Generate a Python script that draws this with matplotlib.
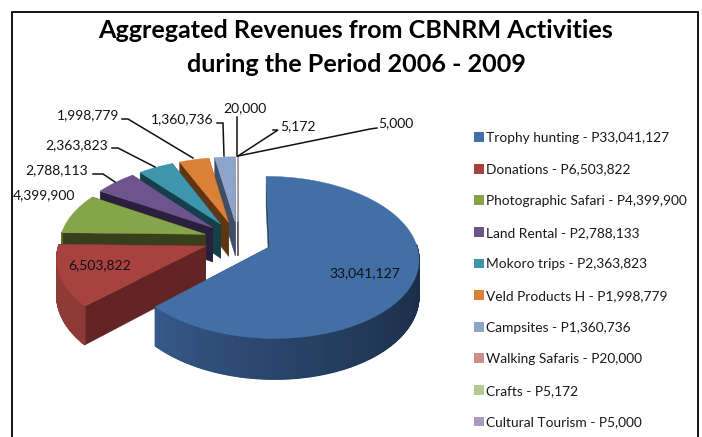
import numpy as np
import matplotlib
matplotlib.use("Agg")
import matplotlib.pyplot as plt
from matplotlib.patches import Polygon, Patch

categories = ["Trophy hunting", "Donations", "Photographic Safari", "Land Rental", "Mokoro trips",
              "Veld Products H", "Campsites", "Walking Safaris", "Crafts", "Cultural Tourism"]
values = [33041127, 6503822, 4399900, 2788133, 2363823, 1998779, 1360736, 20000, 5172, 5000]
legend_values = ["P33,041,127", "P6,503,822", "P4,399,900", "P2,788,133", "P2,363,823",
                 "P1,998,779", "P1,360,736", "P20,000", "P5,172", "P5,000"]
data_labels = ["33,041,127", "6,503,822", "4,399,900", "2,788,113", "2,363,823",
               "1,998,779", "1,360,736", "20,000", "5,172", "5,000"]
title_lines = ["Aggregated Revenues from CBNRM Activities", "during the Period 2006 - 2009"]

top_colors = ["#4270A6", "#A8423F", "#86A44A", "#6E548D", "#3D96AE", "#DA8137", "#8EA5CB", "#CE8E8D", "#B5CA92", "#A99BBD"]
radial_colors = ["#2A4560", "#632523", "#373F1B", "#2A1F3C", "#163F4C", "#5F3512", "#3E4E66", "#7A5050", "#6B7A50", "#5F5570"]
side_near = ["#36598A", "#8F3C38", "#5A6E30", "#4A3860", "#28687A", "#9A5A25", "#5F7390", "#9A6A6A", "#86966A", "#7A6E8C"]
side_far = ["#1A2C44", "#8A3734", "#5A6E30", "#4A3860", "#28687A", "#9A5A25", "#5F7390", "#9A6A6A", "#86966A", "#7A6E8C"]

label_pos = [(365, 273), (100, 265), (44, 195), (57, 170), (77, 145), (88, 115), (182, 119), (245, 108), (298, 126), (396, 123)]
leaders = [None, None, None,
           [(93, 174), (103, 174), (115, 182)],
           [(112, 148), (118, 148), (155, 167)],
           [(122, 119), (128, 119), (193, 158)],
           [(217, 123), (223, 123), (224, 156)],
           [(237, 117), (237, 156)],
           [(273, 130), (278, 130), (238, 156)],
           [(377, 128), (370, 129), (238, 156)]]

# projection of the exploded 3D pie
VX, VY, A, B, D, DEPTH, EXPLODE = 238.0, 239.4, 145.5, 77.7, 7.67, 35.0, 0.235


def project(X, Y, z=0.0):
    X, Y = np.asarray(X, float), np.asarray(Y, float)
    s = D / (D + Y)
    return VX + A * X * s, VY - B * Y * s + z * s


def hex2rgb(h):
    return np.array(matplotlib.colors.to_rgb(h))


fig = plt.figure(figsize=(7.02, 4.37), dpi=100)
ax = fig.add_axes([0, 0, 1, 1])
ax.set_xlim(0, 702)
ax.set_ylim(437, 0)
ax.axis("off")

fractions = np.array(values, float) / np.sum(values)
edges = np.concatenate([[0], np.cumsum(fractions)]) * 2 * np.pi
order = [7, 8, 9, 6, 5, 4, 3, 2, 0, 1]

for i in order:
    a0, a1 = edges[i], edges[i + 1]
    mid = (a0 + a1) / 2
    ax0, ay0 = EXPLODE * np.sin(mid), EXPLODE * np.cos(mid)
    phi = np.linspace(a0, a1, max(4, int(np.degrees(a1 - a0) * 2)))
    X = ax0 + np.sin(phi)
    Y = ay0 + np.cos(phi)
    # radial faces
    for a in (a0, a1):
        fx = [ax0, ax0 + np.sin(a)]
        fy = [ay0, ay0 + np.cos(a)]
        tx, ty = project(fx, fy)
        bx, by = project(fx, fy, DEPTH)
        ax.add_patch(Polygon(np.column_stack([np.r_[tx, bx[::-1]], np.r_[ty, by[::-1]]]),
                             closed=True, fc=radial_colors[i], ec=radial_colors[i], lw=0.3, zorder=2))
    # outer wall, shaded along the arc
    tx, ty = project(X, Y)
    bx, by = project(X, Y, DEPTH)
    near, far = hex2rgb(side_near[i]), hex2rgb(side_far[i])
    for k in range(len(phi) - 1):
        pm = (phi[k] + phi[k + 1]) / 2
        if np.cos(pm) > 0.03:
            continue
        t = np.clip((pm - np.pi / 2) / max(a1 - np.pi / 2, 1e-6), 0, 1) ** 1.4
        c = far + (near - far) * t
        ax.add_patch(Polygon([(tx[k], ty[k]), (tx[k + 1], ty[k + 1]), (bx[k + 1], by[k + 1]), (bx[k], by[k])],
                             closed=True, fc=c, ec=c, lw=0.9, zorder=2))
    # top face
    apx, apy = project(ax0, ay0)
    ax.add_patch(Polygon(np.column_stack([np.r_[apx, tx], np.r_[apy, ty]]), closed=True,
                         fc=top_colors[i], ec=top_colors[i], lw=0.3, zorder=3))

for text, pos, path in zip(data_labels, label_pos, leaders):
    ax.text(pos[0], pos[1], text, ha="center", va="center", fontsize=10, family="Lato",
            color="#111111", zorder=6)
    if path:
        ax.plot(*zip(*path), color="#111111", lw=1.1, zorder=5, solid_joinstyle="miter")

ax.text(356, 30, title_lines[0], ha="center", va="center", fontsize=18.1, family="Lato", weight="bold", color="black")
ax.text(356, 65, title_lines[1], ha="center", va="center", fontsize=18.1, family="Lato", weight="bold", color="black")

handles = [Patch(fc=c, ec="none") for c in top_colors]
labels = [f"{c} - {v}" for c, v in zip(categories, legend_values)]
ax.legend(handles, labels, loc="upper left", bbox_to_anchor=(463 / 702, 1 - 121 / 437),
          bbox_transform=fig.transFigure, frameon=False, prop={"family": "Lato", "size": 9.9},
          labelspacing=1.425, handlelength=0.72, handleheight=0.72, handletextpad=0.18,
          borderpad=0.3, labelcolor="#1a1a1a")

ax.plot([12, 12], [437, 12], color="black", lw=1.3, zorder=7, solid_capstyle="butt")
ax.plot([12, 698], [12, 12], color="black", lw=1.3, zorder=7, solid_capstyle="projecting")
ax.plot([698, 698], [12, 437], color="black", lw=1.3, zorder=7, solid_capstyle="butt")

fig.savefig("out.png", dpi=100)
